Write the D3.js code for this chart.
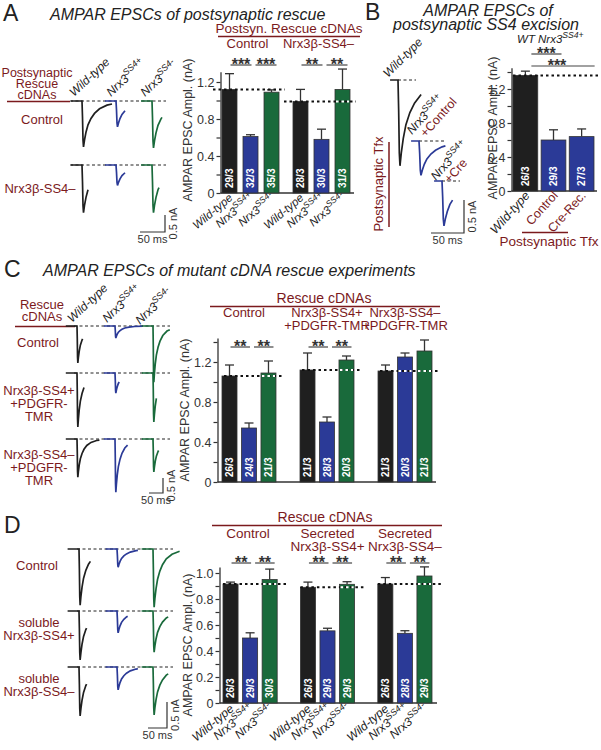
<!DOCTYPE html>
<html><head><meta charset="utf-8">
<script src="https://cdn.jsdelivr.net/npm/d3@7"></script>
<style>body{margin:0;background:#fff}</style>
</head><body>
<svg id="c" width="601" height="750" style="font-family:'Liberation Sans',Arial,Helvetica,sans-serif"></svg>
<script>
// ---------------- DATA ----------------
const genoBase = ["Wild-type", "Nrx3", "Nrx3"];
const genoSup  = ["", "SS4+", "SS4-"];

// Panel A
const A_groups = ["Control", "Nrx3β-SS4–"];
const A_means = [[1.12, 0.61, 1.09], [0.99, 0.58, 1.12]];
const A_sems  = [[0.17, 0.02, 0.025], [0.13, 0.11, 0.22]];
const A_n     = [["29/3", "32/3", "35/3"], ["28/3", "30/3", "31/3"]];
const A_sig   = [["***", "***"], ["**", "**"]];
const A_ticks = [0, 0.2, 0.4, 0.6, 0.8, 1.0, 1.2];
const A_tickLabels = [0, 0.4, 0.8, 1.2];

// Panel B
const B_cats  = ["Wild-type", "Control", "Cre-Rec."];
const B_means = [1.36, 0.60, 0.64];
const B_sems  = [0.05, 0.12, 0.09];
const B_n     = ["26/3", "29/3", "27/3"];
const B_sig   = ["***", "***"];
const B_ticks = [0, 0.2, 0.4, 0.6, 0.8, 1.0, 1.2, 1.4];
const B_tickLabels = [0, 0.4, 0.8, 1.2];

// Panel C
const C_groups = [["Control"], ["Nrx3β-SS4+", "+PDGFR-TMR"], ["Nrx3β-SS4–", "+PDGFR-TMR"]];
const C_rowLabels = [["Rescue", "cDNAs"], ["Control"], ["Nrx3β-SS4+", "+PDGFR-", "TMR"], ["Nrx3β-SS4–", "+PDGFR-", "TMR"]];
const C_means = [[1.06, 0.54, 1.09], [1.12, 0.60, 1.22], [1.11, 1.25, 1.31]];
const C_sems  = [[0.11, 0.05, 0.12], [0.17, 0.05, 0.04], [0.06, 0.04, 0.11]];
const C_n     = [["26/3", "24/3", "21/3"], ["21/3", "28/3", "20/3"], ["21/3", "20/3", "21/3"]];
const C_sig   = [["**", "**"], ["**", "**"], []];
const C_ticks = [0, 0.2, 0.4, 0.6, 0.8, 1.0, 1.2, 1.4];
const C_tickLabels = [0, 0.4, 0.8, 1.2];

// Panel D
const D_groups = [["Control"], ["Secreted", "Nrx3β-SS4+"], ["Secreted", "Nrx3β-SS4–"]];
const D_rowLabels = [["Control"], ["soluble", "Nrx3β-SS4+"], ["soluble", "Nrx3β-SS4–"]];
const D_means = [[0.915, 0.50, 0.95], [0.89, 0.555, 0.913], [0.915, 0.536, 0.977]];
const D_sems  = [[0.015, 0.04, 0.08], [0.04, 0.02, 0.02], [0.05, 0.02, 0.07]];
const D_n     = [["26/3", "29/3", "30/3"], ["26/3", "29/3", "29/3"], ["26/3", "28/3", "29/3"]];
const D_sig   = [["**", "**"], ["**", "**"], ["**", "**"]];
const D_ticks = [0, 0.1, 0.2, 0.3, 0.4, 0.5, 0.6, 0.7, 0.8, 0.9, 1.0];
const D_tickLabels = [0, 0.2, 0.4, 0.6, 0.8, 1.0];

// Example EPSC traces: normalized waveform (time ms, fraction of peak)
const epscT = [0, 1, 2, 3, 5, 8, 12, 18, 25, 35, 50, 70, 100];
const epscF = [0, 0.35, 0.85, 1, 0.85, 0.68, 0.52, 0.38, 0.27, 0.17, 0.09, 0.04, 0.01];
// peak amplitudes (nA) and shown durations (ms), rows = conditions, cols = genotypes
const A_rows = [["Postsynaptic", "Rescue", "cDNAs"], ["Control"], ["Nrx3β-SS4–"]];
const A_traceAmp = [[1.35, 0.76, 1.38], [1.4, 0.6, 1.4]];
const A_traceDur = [[60, 18, 20], [12, 18, 14]];
const B_traceAmp = [1.3, 0.52, 0.68];
const B_traceDur = [35, 40, 16];
const C_traceAmp = [[1.23, 0.4, 1.87], [1.8, 0.67, 1.63], [1.27, 1.77, 1.1]];
const C_traceDur = [[20, 100, 60], [25, 15, 12], [80, 45, 20]];
const D_traceAmp = [[1.08, 0.35, 1.12], [0.94, 0.42, 0.79], [0.94, 0.44, 0.92]];
const D_traceDur = [[30, 55, 70], [20, 28, 40], [20, 55, 40]];

// ---------------- DRAWING ----------------
const svg = d3.select("#c");
const RED = "#7b1a1d", INK = "#222";
const COL = ["#1f1f1f", "#2b3a97", "#196a3b"];

function txt(x, y, s, o = {}) {
  const t = svg.append("text").attr("x", x).attr("y", y).text(s)
    .attr("font-size", o.size || 13).attr("fill", o.fill || INK)
    .attr("text-anchor", o.anchor || "start");
  if (o.italic) t.attr("font-style", "italic");
  if (o.bold) t.attr("font-weight", "bold");
  if (o.rotate != null) t.attr("transform", `rotate(${o.rotate},${x},${y})`);
  return t;
}
function line(x1, y1, x2, y2, o = {}) {
  const l = svg.append("line").attr("x1", x1).attr("y1", y1).attr("x2", x2).attr("y2", y2)
    .attr("stroke", o.stroke || "#333").attr("stroke-width", o.w || 1.2);
  if (o.dash) l.attr("stroke-dasharray", o.dash);
  return l;
}
function geno(x, y, i, o = {}) {
  const size = o.size || 12;
  const t = txt(x, y, genoBase[i], Object.assign({italic: true}, o));
  if (genoSup[i]) t.append("tspan").attr("font-size", size * 0.75).attr("dy", -size * 0.42).text(genoSup[i]);
  return t;
}
function stack(x, y0, lines, step, o) {
  lines.forEach((s, k) => txt(x, y0 + k * step, s, Object.assign({size: 13, fill: RED, anchor: "middle"}, o || {})));
}
const fmt = d => d === 0 ? "0" : d3.format(".1f")(d);

function barPanel(o) {
  const y = d3.scaleLinear().domain([0, o.refVal]).range([o.y0, o.refPx]);
  const ay = y.copy().domain([0, o.axisTop]).range([o.y0, y(o.axisTop)]);
  const gx = d3.scaleBand().domain(d3.range(o.means.length)).range(o.xRange).paddingInner(o.groupPad);
  const ix = d3.scaleBand().domain(d3.range(o.means[0].length)).range([0, gx.bandwidth()]).paddingInner(o.innerPad);
  const bw = ix.bandwidth();
  const bx = (gi, i) => gx(gi) + ix(i);
  const bc = (gi, i) => bx(gi, i) + bw / 2;

  const axis = d3.axisLeft(ay).tickValues(o.ticks).tickSize(4).tickSizeOuter(0)
    .tickFormat(d => o.labels.some(v => Math.abs(v - d) < 1e-6) ? fmt(d) : "");
  const ag = svg.append("g").attr("transform", `translate(${o.axisX},0)`).call(axis);
  ag.select(".domain").attr("stroke", "#333").attr("stroke-width", 1.3);
  ag.selectAll(".tick line").attr("stroke", "#333").attr("stroke-width", 1.2);
  ag.selectAll(".tick text").attr("font-size", 12.5).attr("fill", "#333")
    .attr("font-family", "'Liberation Sans',Arial,sans-serif").attr("x", -6);
  line(o.axisX, o.y0, o.baseEnd, o.y0, {w: 1.3});

  o.means.forEach((grp, gi) => grp.forEach((v, i) => {
    const cx = bc(gi, i), top = y(v + o.sems[gi][i]);
    line(cx, y(v), cx, top, {w: 1.3});
    line(cx - 4.5, top, cx + 4.5, top, {w: 1.3});
    svg.append("rect").attr("x", bx(gi, i)).attr("y", y(v)).attr("width", bw).attr("height", o.y0 - y(v))
      .attr("fill", o.color(gi, i)).attr("stroke", "#333").attr("stroke-width", 0.8);
    txt(cx + 3.6, o.y0 - 5, o.ns[gi][i], {size: 10, bold: true, fill: "#fff", rotate: -90});
  }));
  // reference dotted lines at wild-type level
  o.means.forEach((grp, gi) => {
    const ref = grp[0];
    line(bx(gi, 0) + o.refL, y(ref), bx(gi, grp.length - 1) + bw + o.refR, y(ref), {stroke: "#111", w: 2, dash: "2.5,3"});
    grp.forEach((v, i) => { if (i > 0 && v > ref + 0.01) line(bx(gi, i) + 1, y(ref), bx(gi, i) + bw - 1, y(ref), {stroke: "#fff", w: 2, dash: "2.5,3"}); });
  });
  // significance
  if (o.sig) o.sig.forEach((pairs, gi) => pairs.forEach((s, k) => {
    const x1 = k === 0 ? bc(gi, 0) + 1 : bc(gi, 1) + 5;
    const x2 = k === 0 ? bc(gi, 1) + 1 : bc(gi, 2) + 5;
    line(x1, o.sigY, x2, o.sigY, {w: 1.2, stroke: "#444"});
    txt((x1 + x2) / 2, o.sigY + 5, s, {size: 16, bold: true, anchor: "middle", fill: "#333"});
  }));
  return {y, gx, bc, bw};
}

function traces(o) {
  const tx = d3.scaleLinear().domain([0, 50]).range([0, o.px50]);
  const ty = d3.scaleLinear().domain([0, 0.5]).range([0, o.px05]);
  const shape = d3.scaleLinear().domain(epscT).range(epscF).clamp(true);
  const path = d3.line();
  o.amp.forEach((row, r) => {
    line(o.dash[0], o.base[r], o.dash[1], o.base[r], {stroke: "#222", w: 1, dash: "3,2.5"});
    row.forEach((a, c) => {
      const dur = o.dur[r][c];
      const ts = [-o.lead, 0].concat(epscT.filter(t => t > 0 && t < dur), [dur]);
      const pts = ts.map(t => [o.onset[c] + tx(t), o.base[r] + ty(t <= 0 ? 0 : a * shape(t))]);
      svg.append("path").attr("d", path(pts)).attr("fill", "none").attr("stroke", COL[c]).attr("stroke-width", 1.7);
    });
  });
  scaleBar(o.sb[0], o.sb[1], tx, ty);
}
function scaleBar(cx, cy, tx, ty) {
  svg.append("path").attr("d", `M${cx - tx(50)},${cy}H${cx}V${cy - ty(0.5)}`).attr("fill", "none").attr("stroke", "#333").attr("stroke-width", 1.2);
  txt(cx - tx(50) / 2, cy + 11, "50 ms", {size: 11, anchor: "middle", fill: "#333"});
  txt(cx + 12, cy - ty(0.5) / 2, "0.5 nA", {size: 11, anchor: "middle", fill: "#333", rotate: -90});
}

// ===== Panel A =====
txt(3, 21, "A", {size: 23});
txt(50, 20, "AMPAR EPSCs of postsynaptic rescue", {size: 16, italic: true});
stack(37, 76.5, A_rows[0], 11.3, {size: 12.5});
line(7, 101.5, 70, 101.5, {stroke: RED, w: 1.5});
stack(42, 124, A_rows[1], 12);
stack(40, 193, A_rows[2], 12);
[[74, 97], [111, 97], [145, 97]].forEach((p, i) => geno(p[0], p[1], i, {size: 12, rotate: -43}));
traces({amp: A_traceAmp, dur: A_traceDur, onset: [82, 116, 152], base: [101, 165], lead: 22,
  px50: 25, px05: 17, dash: [70, 166], sb: [165, 232]});

const pA = barPanel({means: A_means, sems: A_sems, ns: A_n, sig: A_sig, sigY: 65,
  refVal: 1.2, y0: 193, refPx: 82, axisTop: 1.31, ticks: A_ticks, labels: A_tickLabels,
  xRange: [222, 350], groupPad: 0.197, innerPad: 0.286, axisX: 220.5, baseEnd: 354,
  refL: -9, refR: 6, color: (g, i) => COL[i]});
txt(289, 33, "Postsyn. Rescue cDNAs", {size: 13.5, fill: RED, anchor: "middle"});
line(218, 36.5, 360, 36.5, {stroke: RED, w: 1.5});
A_groups.forEach((g, gi) => txt(pA.gx(gi) + pA.gx.bandwidth() / 2 - 3, 48, g, {size: 13, fill: RED, anchor: "middle"}));
A_means.forEach((grp, gi) => grp.forEach((v, i) => geno(pA.bc(gi, i) + 4, 199, i, {size: 11.5, rotate: -40, anchor: "end"})));
txt(192, 130, "AMPAR EPSC Ampl. (nA)", {size: 12.5, anchor: "middle", rotate: -90, fill: "#333"});

// ===== Panel B =====
txt(365, 20, "B", {size: 23});
txt(488, 16, "AMPAR EPSCs of", {size: 16, italic: true, anchor: "middle"});
txt(486, 29.5, "postsynaptic SS4 excision", {size: 16, italic: true, anchor: "middle"});
txt(526, 43, "WT", {size: 11.5, italic: true, anchor: "middle"});
geno(538, 43, 1, {size: 11.5});
txt(388, 78, "Wild-type", {size: 12, italic: true, rotate: -45});
(function () {
  const lab = [[412, 135, "+Control"], [436, 181, "+Cre"]];
  lab.forEach(l => {
    const g = svg.append("g").attr("transform", `translate(${l[0]},${l[1]}) rotate(-48)`);
    const t = g.append("text").attr("font-size", 12).attr("font-style", "italic").attr("fill", INK).text(genoBase[1]);
    t.append("tspan").attr("font-size", 9).attr("dy", -5).text(genoSup[1]);
    g.append("text").attr("x", 7).attr("y", 12).attr("font-size", 12.5).attr("fill", RED).text(l[2]);
  });
  const tx = d3.scaleLinear().domain([0, 50]).range([0, 33]);
  const ty = d3.scaleLinear().domain([0, 0.5]).range([0, 33]);
  const shape = d3.scaleLinear().domain(epscT).range(epscF).clamp(true);
  const pos = [[398, 80, 416], [419, 141, 446], [442, 181, 460]];
  const cols = [COL[0], COL[1], COL[1]];
  B_traceAmp.forEach((a, k) => {
    const [ox, by, dx] = pos[k];
    line(ox, by, dx, by, {stroke: "#222", w: 1, dash: "3,2.5"});
    const ts = [-12, 0].concat(epscT.filter(t => t > 0 && t < B_traceDur[k]), [B_traceDur[k]]);
    svg.append("path").attr("d", d3.line()(ts.map(t => [ox + tx(t), by + ty(t <= 0 ? 0 : a * shape(t))])))
      .attr("fill", "none").attr("stroke", cols[k]).attr("stroke-width", 1.7);
  });
  scaleBar(464, 233, tx, ty);
})();
txt(383, 184, "Postsynaptic Tfx", {size: 13, fill: RED, anchor: "middle", rotate: -90});
line(389, 142, 389, 227, {stroke: RED, w: 1.5});

const pB = barPanel({means: [B_means], sems: [B_sems], ns: [B_n], sig: null,
  refVal: 1.2, y0: 191, refPx: 89, axisTop: 1.45, ticks: B_ticks, labels: B_tickLabels,
  xRange: [513, 594], groupPad: 0, innerPad: 0.12, axisX: 511.5, baseEnd: 597,
  refL: 0, refR: 4, color: (g, i) => i === 0 ? COL[0] : COL[1]});
[[B_sig[0], 0, 1, 54, 6, 8], [B_sig[1], 0, 2, 66, 6, 13]].forEach(s => {
  const x1 = pB.bc(0, s[1]) + s[4], x2 = pB.bc(0, s[2]) + s[5];
  line(x1, s[3], x2, s[3], {w: 1.2, stroke: "#444"});
  txt((x1 + x2) / 2 - (s[2] === 2 ? 6 : 0), s[3] + 5, s[0], {size: 16, bold: true, anchor: "middle", fill: "#333"});
});
B_cats.forEach((c, i) => txt(pB.bc(0, i) + 5, 196, c, {size: 12.5, italic: i === 0, fill: i === 0 ? INK : RED, anchor: "end", rotate: -48}));
line(522, 232.5, 568, 232.5, {stroke: RED, w: 1.5});
txt(549, 246, "Postsynaptic Tfx", {size: 13.5, fill: RED, anchor: "middle"});
txt(497, 128, "AMPAR EPSC Ampl. (nA)", {size: 12.5, anchor: "middle", rotate: -90, fill: "#333"});

// ===== Panel C =====
txt(4, 277, "C", {size: 23});
txt(43, 276, "AMPAR EPSCs of mutant cDNA rescue experiments", {size: 16, italic: true});
stack(42, 309, C_rowLabels[0], 12);
line(15, 326.5, 75, 326.5, {stroke: RED, w: 1.5});
stack(38, 347, C_rowLabels[1], 13);
stack(39, 395, C_rowLabels[2], 13);
stack(39, 459, C_rowLabels[3], 13);
[[72, 323], [107, 323], [140, 325]].forEach((p, i) => geno(p[0], p[1], i, {size: 12, rotate: -43}));
traces({amp: C_traceAmp, dur: C_traceDur, onset: [77, 115, 153], base: [326, 373, 439], lead: 40,
  px50: 14, px05: 15, dash: [74, 170], sb: [163, 493]});

const pC = barPanel({means: C_means, sems: C_sems, ns: C_n, sig: C_sig, sigY: 347,
  refVal: 1.2, y0: 482, refPx: 362, axisTop: 1.44, ticks: C_ticks, labels: C_tickLabels,
  xRange: [222, 432], groupPad: 0.308, innerPad: 0.23, axisX: 217.5, baseEnd: 436,
  refL: 2, refR: 8, color: (g, i) => COL[i]});
txt(324, 303, "Rescue cDNAs", {size: 14, fill: RED, anchor: "middle"});
line(210, 306.5, 440, 306.5, {stroke: RED, w: 1.5});
C_groups.forEach((g, gi) => g.forEach((s, k) => txt(pC.gx(gi) + pC.gx.bandwidth() / 2 - (gi === 0 ? 5 : 0), 317 + k * 13, s, {size: 13, fill: RED, anchor: "middle"})));
txt(189, 410, "AMPAR EPSC Ampl. (nA)", {size: 12.5, anchor: "middle", rotate: -90, fill: "#333"});

// ===== Panel D =====
txt(4, 533, "D", {size: 23});
stack(37, 570, D_rowLabels[0], 12);
stack(39, 627, D_rowLabels[1], 12.5);
stack(39, 683, D_rowLabels[2], 13);
traces({amp: D_traceAmp, dur: D_traceDur, onset: [79, 117, 153], base: [549, 611, 667], lead: 30,
  px50: 19, px05: 26, dash: [77, 173], sb: [167, 728]});

const pD = barPanel({means: D_means, sems: D_sems, ns: D_n, sig: D_sig, sigY: 563,
  refVal: 1.0, y0: 703, refPx: 573, axisTop: 1.046, ticks: D_ticks, labels: D_tickLabels,
  xRange: [223, 432], groupPad: 0.3, innerPad: 0.23, axisX: 219.5, baseEnd: 437,
  refL: 0, refR: 10, color: (g, i) => COL[i]});
txt(325, 522, "Rescue cDNAs", {size: 14, fill: RED, anchor: "middle"});
line(212, 525.5, 442, 525.5, {stroke: RED, w: 1.5});
D_groups.forEach((g, gi) => g.forEach((s, k) => txt(pD.gx(gi) + pD.gx.bandwidth() / 2 - (gi === 0 ? 2 : 0), 538 + k * 13, s, {size: 13.5, fill: RED, anchor: "middle"})));
D_means.forEach((grp, gi) => grp.forEach((v, i) => geno(pD.bc(gi, i) + 4, 710, i, {size: 12, rotate: -40, anchor: "end"})));
txt(192, 645, "AMPAR EPSC Ampl. (nA)", {size: 12.5, anchor: "middle", rotate: -90, fill: "#333"});
</script>
</body></html>
